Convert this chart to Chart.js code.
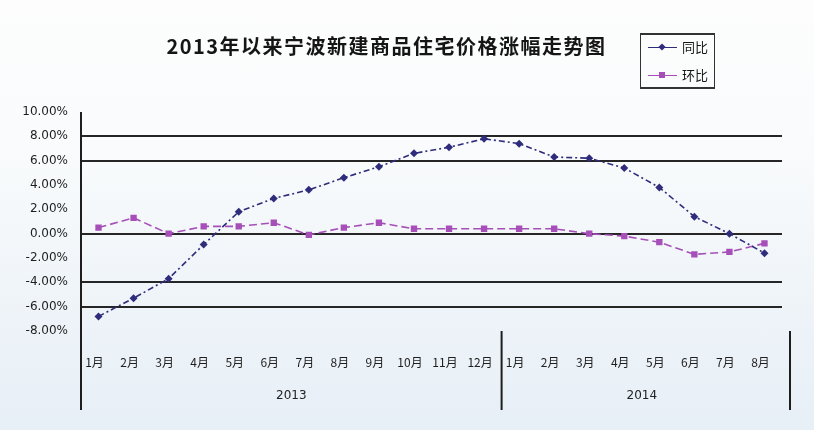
<!DOCTYPE html>
<html>
<head>
<meta charset="utf-8">
<script src="https://cdn.jsdelivr.net/npm/chart.js@4"></script>
<style>
  html, body { margin: 0; padding: 0; }
  body {
    width: 814px; height: 430px; overflow: hidden; position: relative;
    background: linear-gradient(to bottom, #fdfdfd 0%, #f9fbfc 35%, #edf3f8 75%, #e7eff7 100%);
    font-family: "Noto Sans CJK SC", sans-serif;
  }
  #chart { position: absolute; left: 0; top: 0; }
  #title {
    position: absolute; left: 0; top: 32px; width: 773px; text-align: center;
    font-weight: 700; font-size: 20px; letter-spacing: 1.5px; color: #151515; line-height: 28px;
  }
  #legend {
    position: absolute; left: 640px; top: 33px; width: 75px; height: 56px;
    box-sizing: border-box; border: 1px solid #333; border-top-width: 2px; border-bottom-width: 2px;
  }
  .item { position: absolute; left: 7px; height: 18px; display: flex; align-items: center; }
  .sw { width: 29px; height: 0; position: relative; }
  .mk { position: absolute; left: 11px; top: -4px; width: 6px; height: 6px; }
  .txt { margin-left: 5px; font-size: 13px; color: #151515; line-height: 18px; }
</style>
</head>
<body>
<canvas id="chart" width="814" height="430"></canvas>
<div id="title">2013年以来宁波新建商品住宅价格涨幅走势图</div>
<div id="legend"></div>
<script>
// ---- data ----
const categories = ['1月','2月','3月','4月','5月','6月','7月','8月','9月','10月','11月','12月',
                    '1月','2月','3月','4月','5月','6月','7月','8月'];
const years = ['2013', '2014'];
const yearSpans = [12, 8];
const seriesNames = ['同比', '环比'];
const yoyValues = [-6.8, -5.3, -3.7, -0.9, 1.8, 2.9, 3.6, 4.6, 5.5, 6.6, 7.1, 7.8,
                   7.4, 6.3, 6.2, 5.4, 3.8, 1.4, 0.0, -1.6];
const momValues = [0.5, 1.3, 0.0, 0.6, 0.6, 0.9, -0.1, 0.5, 0.9, 0.4, 0.4, 0.4,
                   0.4, 0.4, 0.0, -0.2, -0.7, -1.7, -1.5, -0.8];
const yMin = -8, yMax = 10, yStep = 2;
const gridValues = [8, 6, 0, -4, -6];

const colors = ['#2f2c7c', '#a64fb8'];

// ---- legend (HTML) ----
const legend = document.getElementById('legend');
seriesNames.forEach((name, i) => {
  const it = document.createElement('div');
  it.className = 'item';
  it.style.top = (i === 0 ? 3 : 31) + 'px';
  const sw = document.createElement('div');
  sw.className = 'sw';
  sw.style.borderTop = '1.5px solid ' + colors[i];
  const mk = document.createElement('div');
  mk.className = 'mk';
  mk.style.background = colors[i];
  if (i === 0) { mk.style.transform = 'rotate(45deg) scale(0.85)'; }
  sw.appendChild(mk);
  const tx = document.createElement('span');
  tx.className = 'txt';
  tx.textContent = name;
  it.appendChild(sw); it.appendChild(tx);
  legend.appendChild(it);
});

// ---- extra axis decorations ----
const decorations = {
  id: 'decorations',
  afterDraw(chart) {
    const { ctx, chartArea } = chart;
    const x = chart.scales.x;
    const bottomY = 410;
    ctx.save();
    ctx.strokeStyle = '#1e1e1e';
    ctx.lineWidth = 2;
    // y axis line extended
    ctx.beginPath();
    ctx.moveTo(chartArea.left, chartArea.top);
    ctx.lineTo(chartArea.left, bottomY);
    ctx.stroke();
    // year labels and separators
    let idx = 0;
    const seps = [];
    yearSpans.forEach((span, k) => {
      const first = x.getPixelForValue(idx);
      const last = x.getPixelForValue(idx + span - 1);
      const center = (first + last) / 2;
      ctx.fillStyle = '#222';
      ctx.font = '12px "DejaVu Sans"';
      ctx.textAlign = 'center';
      ctx.textBaseline = 'middle';
      ctx.fillText(years[k], center, 396);
      idx += span;
      if (idx < categories.length) {
        seps.push((x.getPixelForValue(idx - 1) + x.getPixelForValue(idx)) / 2);
      }
    });
    seps.push(chartArea.right + 8);
    seps.forEach(sx => {
      ctx.beginPath();
      ctx.moveTo(sx, chartArea.bottom);
      ctx.lineTo(sx, bottomY);
      ctx.stroke();
    });
    ctx.restore();
  }
};

new Chart(document.getElementById('chart'), {
  type: 'line',
  data: {
    labels: categories,
    datasets: [
      {
        label: seriesNames[0], data: yoyValues,
        borderColor: colors[0], backgroundColor: colors[0],
        borderWidth: 1.6, borderDash: [6, 3, 2, 3],
        pointStyle: 'rectRot', pointRadius: 4, pointBorderWidth: 0,
        tension: 0
      },
      {
        label: seriesNames[1], data: momValues,
        borderColor: colors[1], backgroundColor: colors[1],
        borderWidth: 1.6, borderDash: [8, 4],
        pointStyle: 'rect', pointRadius: 4.5, pointBorderWidth: 0,
        tension: 0
      }
    ]
  },
  options: {
    responsive: false,
    animation: false,
    devicePixelRatio: 1,
    layout: { padding: { top: 112, right: 32, left: 0, bottom: 0 } },
    plugins: {
      legend: { display: false },
      title: { display: false },
      tooltip: { enabled: false }
    },
    scales: {
      x: {
        offset: true,
        grid: { display: false, drawTicks: false, offset: true },
        border: { display: false },
        ticks: {
          autoSkip: false, maxRotation: 0, minRotation: 0,
          padding: 24, labelOffset: -4,
          color: '#1e1e1e',
          font: { family: '"Noto Sans CJK SC"', size: 12 }
        },
        afterFit(s) { s.height = 99; }
      },
      y: {
        min: yMin, max: yMax,
        grid: {
          drawTicks: false,
          lineWidth: 2,
          color: (c) => (c.tick && gridValues.includes(c.tick.value)) ? '#262626' : 'rgba(0,0,0,0)'
        },
        border: { display: false },
        ticks: {
          stepSize: yStep, padding: 13, color: '#1e1e1e',
          font: { family: '"DejaVu Sans"', size: 12 },
          callback: (v) => v.toFixed(2) + '%'
        },
        afterFit(s) { s.width = 81; }
      }
    }
  },
  plugins: [decorations]
});
</script>
</body>
</html>
